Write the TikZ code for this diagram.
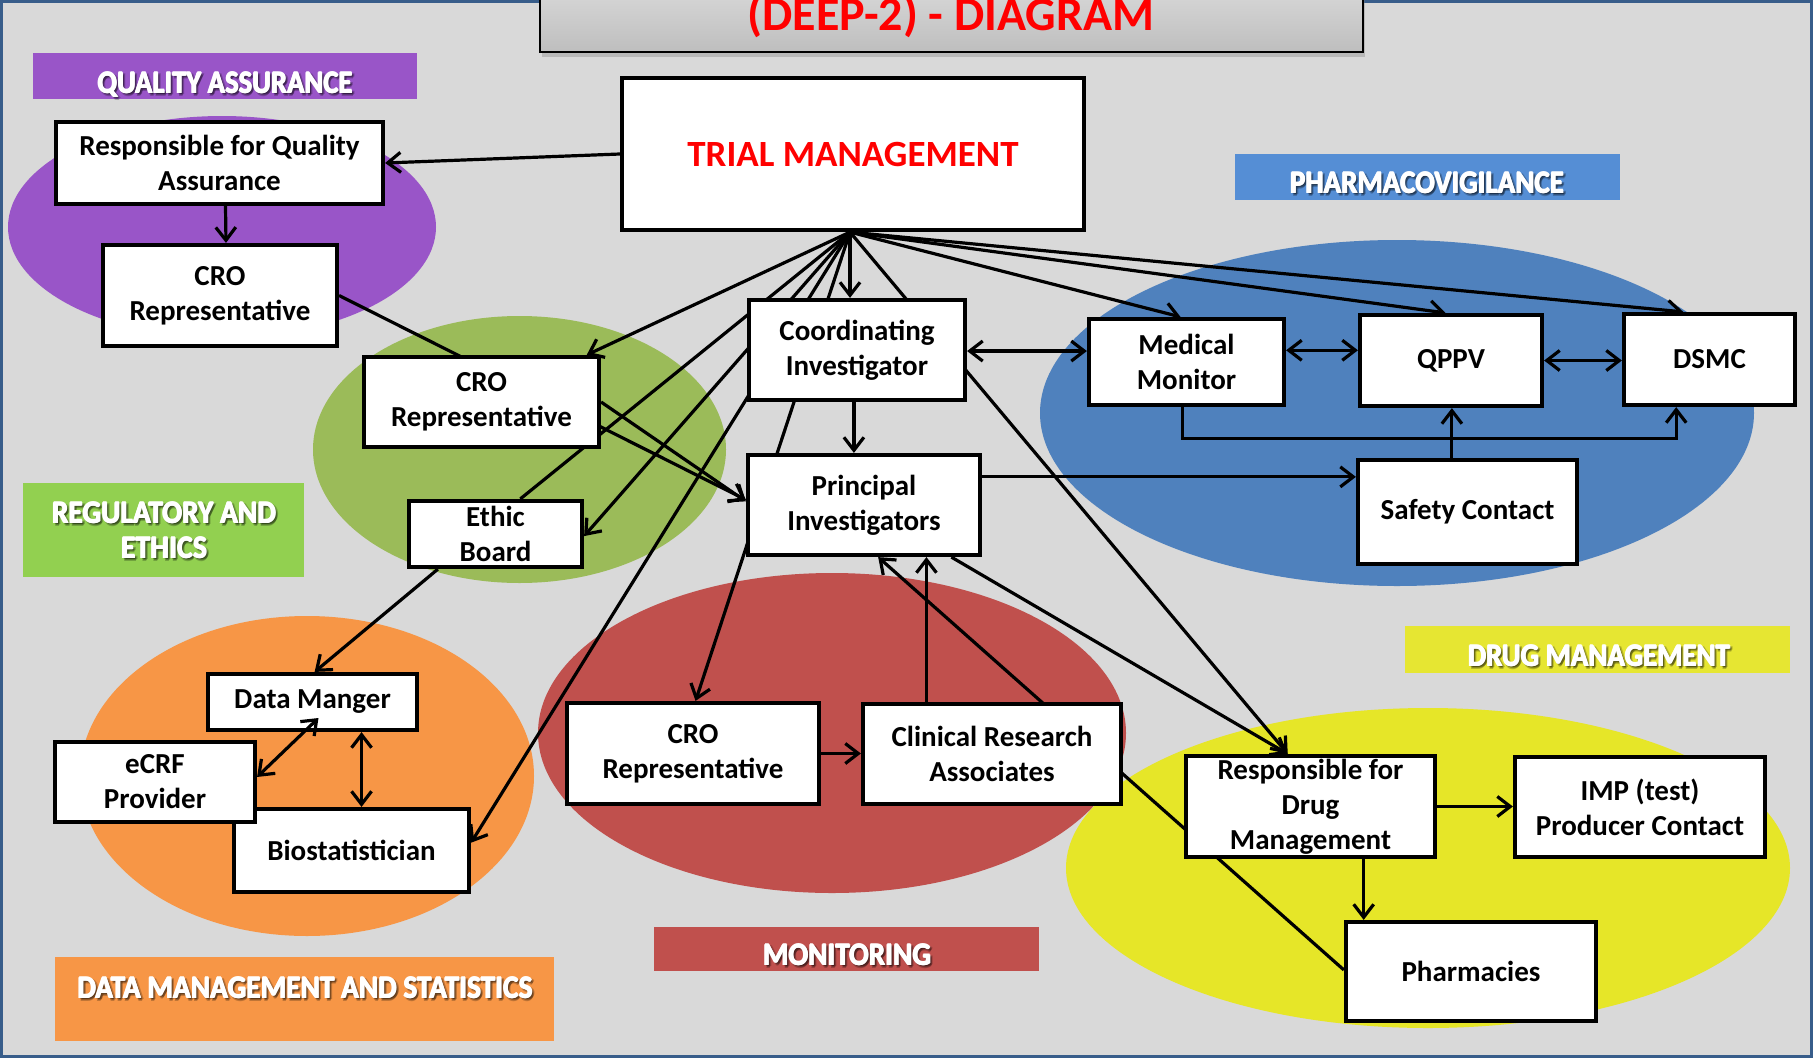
\documentclass[tikz,border=0pt]{standalone}
\usepackage{fontspec}
\setmainfont{Carlito}
\usetikzlibrary{arrows.meta,calc,shadows}
\definecolor{bgc}{RGB}{217,217,217}
\definecolor{bordc}{RGB}{56,93,138}
\definecolor{cpurple}{RGB}{153,85,200}
\definecolor{cgreenE}{RGB}{155,187,89}
\definecolor{cgreenL}{RGB}{146,208,80}
\definecolor{cblueE}{RGB}{79,129,189}
\definecolor{cblueL}{RGB}{85,142,213}
\definecolor{cred}{RGB}{192,80,77}
\definecolor{corange}{RGB}{247,150,70}
\definecolor{cyellowE}{RGB}{230,230,40}
\definecolor{cyellowL}{RGB}{230,230,50}
\definecolor{titlered}{RGB}{255,0,0}
\definecolor{tboxtop}{RGB}{218,218,218}
\definecolor{tboxbot}{RGB}{190,190,190}
\pgfdeclarelayer{bg}
\pgfdeclarelayer{lines}
\pgfsetlayers{bg,lines,main}
\newcommand\mylbl[5]{%
  \node[lbltext, text=black, opacity=0.22] (#1s1) at ($(#2,#3)+(1,1)$) {\resizebox{#4pt}{\height}{#5}};
  \node[lbltext, text=black, opacity=0.22] (#1s2) at ($(#2,#3)+(2.2,2.2)$) {\resizebox{#4pt}{\height}{#5}};
  \node[lbltext, text=black, opacity=0.22] (#1s3) at ($(#2,#3)+(3,1.6)$) {\resizebox{#4pt}{\height}{#5}};
  \node[lbltext, text=black, opacity=0.22] (#1s4) at ($(#2,#3)+(1.6,3)$) {\resizebox{#4pt}{\height}{#5}};
  \node[lbltext, text=white] (#1a) at ($(#2,#3)+(-0.6,0)$) {\resizebox{#4pt}{\height}{#5}};
  \node[lbltext, text=white] (#1b) at ($(#2,#3)+(0,-0.5)$) {\resizebox{#4pt}{\height}{#5}};
  \node[lbltext, text=white] (#1c) at ($(#2,#3)+(0,0.5)$) {\resizebox{#4pt}{\height}{#5}};
  \node[lbltext, text=white] (#1) at ($(#2,#3)+(0.6,0)$) {\resizebox{#4pt}{\height}{#5}};
}
\begin{document}
\begin{tikzpicture}[x=1pt,y=-1pt,
  box/.style={draw=black, line width=3.7pt, fill=white, inner sep=0pt, align=center,
    font=\fontsize{29}{35}\selectfont\bfseries},
  con/.style={line width=3.2pt},
  ar/.style={con, -{Straight Barb[length=13pt,width=20pt]}},
  dar/.style={con, {Straight Barb[length=13pt,width=20pt]}-{Straight Barb[length=13pt,width=20pt]}},
  lbltext/.style={anchor=base, inner sep=0pt, font=\fontsize{32}{36}\selectfont\bfseries}]
\useasboundingbox (0,0) rectangle (1813,1058);

\begin{pgfonlayer}{bg}
\fill[bgc] (0,0) rectangle (1813,1058);
% ellipses
\fill[cpurple] (222,227) ellipse [x radius=214, y radius=111];
\fill[cgreenE] (519.5,449.5) ellipse [x radius=206.5, y radius=133.5];
\fill[cblueE] (1397,413) ellipse [x radius=357, y radius=173];
\fill[corange] (307,776) ellipse [x radius=227, y radius=160];
\fill[cred] (832,733) ellipse [x radius=294, y radius=160];
\fill[cyellowE] (1428,868) ellipse [x radius=362, y radius=160];
% label bars
\fill[cpurple] (33,53) rectangle (417,99);
\fill[cblueL] (1235,154) rectangle (1620,200);
\fill[cgreenL] (23,483) rectangle (304,577);
\fill[corange] (55,957) rectangle (554,1041);
\fill[cred] (654,927) rectangle (1039,971);
\fill[cyellowL] (1405,626) rectangle (1790,673);
\mylbl{lqa}{225}{93}{255}{QUALITY ASSURANCE}
\mylbl{lpv}{1427}{193}{274}{PHARMACOVIGILANCE}
\mylbl{lreg}{164}{523}{224}{REGULATORY AND}
\mylbl{leth}{164}{558}{86}{ETHICS}
\mylbl{ldms}{305}{998}{455}{DATA MANAGEMENT AND STATISTICS}
\mylbl{lmon}{847}{965}{168}{MONITORING}
\mylbl{ldrug}{1599}{666}{262}{DRUG MANAGEMENT}
% frame
\draw[bordc, line width=3pt] (1.5,1.5) rectangle (1811.5,1056.5);
% title
\node[draw=black, line width=2pt, top color=tboxtop, bottom color=tboxbot,
  minimum width=823, minimum height=70, inner sep=0pt,
  drop shadow={shadow xshift=2pt, shadow yshift=-5pt, opacity=0.35}] (titlebox) at (951.5,17) {};
\node[anchor=base, inner sep=0pt, text=titlered, font=\fontsize{48}{56}\selectfont\bfseries] (title) at (951,30) {(DEEP-2) - DIAGRAM};
\end{pgfonlayer}

% boxes
\node[box, minimum width=462.5, minimum height=152.5, text=titlered, font=\fontsize{37}{44}\selectfont\bfseries] (trial) at (853,154) {TRIAL MANAGEMENT};
\node[box, minimum width=327.5, minimum height=82.5] (qa) at (219.5,163) {Responsible for Quality\\Assurance};
\node[box, minimum width=234.5, minimum height=101.5] (qacro) at (220,295.5) {CRO\\Representative};
\node[box, minimum width=235.5, minimum height=90.5] (gcro) at (481.5,402) {CRO\\Representative};
\node[box, minimum width=173.5, minimum height=66.5] (ethic) at (495.5,534) {Ethic\\Board};
\node[box, minimum width=216.5, minimum height=100.5] (ci) at (857,350) {Coordinating\\Investigator};
\node[box, minimum width=232.5, minimum height=100.5] (pi) at (864,505) {Principal\\Investigators};
\node[box, minimum width=195.5, minimum height=86.5] (mm) at (1186.5,362) {Medical\\Monitor};
\node[box, minimum width=182.5, minimum height=91.5] (qppv) at (1451,360.5) {QPPV};
\node[box, minimum width=171.5, minimum height=91.5] (dsmc) at (1709.5,359.5) {DSMC};
\node[box, minimum width=219.5, minimum height=104.5] (sc) at (1467.5,512) {Safety Contact};
\node[box, minimum width=209.5, minimum height=56.5] (dm) at (312.5,702) {Data Manger};
\node[box, minimum width=235.5, minimum height=83.5] (bio) at (351.5,850.5) {Biostatistician};
\node[box, minimum width=200.5, minimum height=80.5] (ecrf) at (155,782) {eCRF\\Provider};
\node[box, minimum width=252.5, minimum height=101.5] (moncro) at (693,753.5) {CRO\\Representative};
\node[box, minimum width=258.5, minimum height=100.5] (cra) at (992,754) {Clinical Research\\Associates};
\node[box, minimum width=249.5, minimum height=101.5] (rdm) at (1310.5,806.5) {Responsible for\\Drug\\Management};
\node[box, minimum width=250.5, minimum height=100.5] (imp) at (1640,807) {IMP (test)\\Producer Contact};
\node[box, minimum width=250.5, minimum height=99.5] (ph) at (1471,971.5) {Pharmacies};

% connection points
\coordinate (hub) at ($(trial.south)+(-3,0)$);
\coordinate (dmb) at ($(dm.south west)!0.73!(dm.south east)$);
\coordinate (cib) at ($(ci.south west)!0.486!(ci.south east)$);
\coordinate (cir) at ($(ci.north east)!0.51!(ci.south east)$);
\coordinate (mmr) at ($(mm.north east)!0.37!(mm.south east)$);
\coordinate (mmb) at ($(mm.south west)!0.48!(mm.south east)$);
\coordinate (dsb) at ($(dsmc.south west)!0.31!(dsmc.south east)$);
\coordinate (sct) at ($(sc.north west)!0.43!(sc.north east)$);
\coordinate (pir) at ($(pi.north east)!0.23!(pi.south east)$);
\coordinate (crat) at ($(cra.north west)!0.25!(cra.north east)$);
\coordinate (rdmb) at ($(rdm.south west)!0.71!(rdm.south east)$);
\coordinate (rdmt) at ($(rdm.north west)!0.41!(rdm.north east)$);

\begin{pgfonlayer}{lines}
\draw[ar] (hub) -- ($(gcro.north west)!0.94!(gcro.north east)$);
\draw[con] (hub) -- ($(ethic.north west)!0.64!(ethic.north east)$);
\draw[ar] (hub) -- ($(ethic.north east)!0.53!(ethic.south east)$);
\draw[ar] (hub) -- ($(bio.north east)!0.41!(bio.south east)$);
\draw[ar] (hub) -- ($(moncro.north west)!0.51!(moncro.north east)$);
\draw[ar] (hub) -- (hub |- ci.north);
\draw[ar] (hub) -- (rdmt);
\draw[ar] (hub) -- ($(mm.north west)!0.47!(mm.north east)$);
\draw[ar] (hub) -- ($(qppv.north west)!0.47!(qppv.north east)$);
\draw[ar] (hub) -- ($(dsmc.north west)!0.35!(dsmc.north east)$);
\draw[ar] (trial.west) -- (qa.east);
\draw[ar] ([xshift=6pt]qa.south) -- ([xshift=6pt]qacro.north);
\draw[ar] (qacro.east) -- ($(pi.north west)!0.45!(pi.south west)$);
\draw[ar] (gcro.east) -- ($(pi.north west)!0.465!(pi.south west)$);
\draw[ar] ($(ethic.south west)!0.175!(ethic.south east)$) -- ($(dm.north west)!0.51!(dm.north east)$);
\draw[dar] (dmb) -- (dmb |- bio.north);
\draw[ar] (cib) -- (cib |- pi.north);
\draw[dar] (cir) -- (cir -| mm.west);
\draw[dar] (mmr) -- (mmr -| qppv.west);
\draw[dar] (qppv.east) -- (qppv.east -| dsmc.west);
\draw[ar] (mmb) -- ++(0,31) -| (dsb);
\draw[ar] (sct) -- (sct |- qppv.south);
\draw[ar] (pir) -- (pir -| sc.west);
\draw[ar] ($(pi.south west)!0.87!(pi.south east)$) -- (rdmt);
\draw[ar] ($(ph.north west)!0.485!(ph.south west)$) -- ($(pi.south west)!0.56!(pi.south east)$);
\draw[ar] (crat) -- (crat |- pi.south);
\draw[ar] (moncro.east) -- (moncro.east -| cra.west);
\draw[ar] (rdm.east) -- (rdm.east -| imp.west);
\draw[ar] (rdmb) -- (rdmb |- ph.north);
\end{pgfonlayer}
\draw[dar] ($(dm.center)+(6,16)$) -- ($(ecrf.north east)!0.44!(ecrf.south east)$);
\end{tikzpicture}
\end{document}
